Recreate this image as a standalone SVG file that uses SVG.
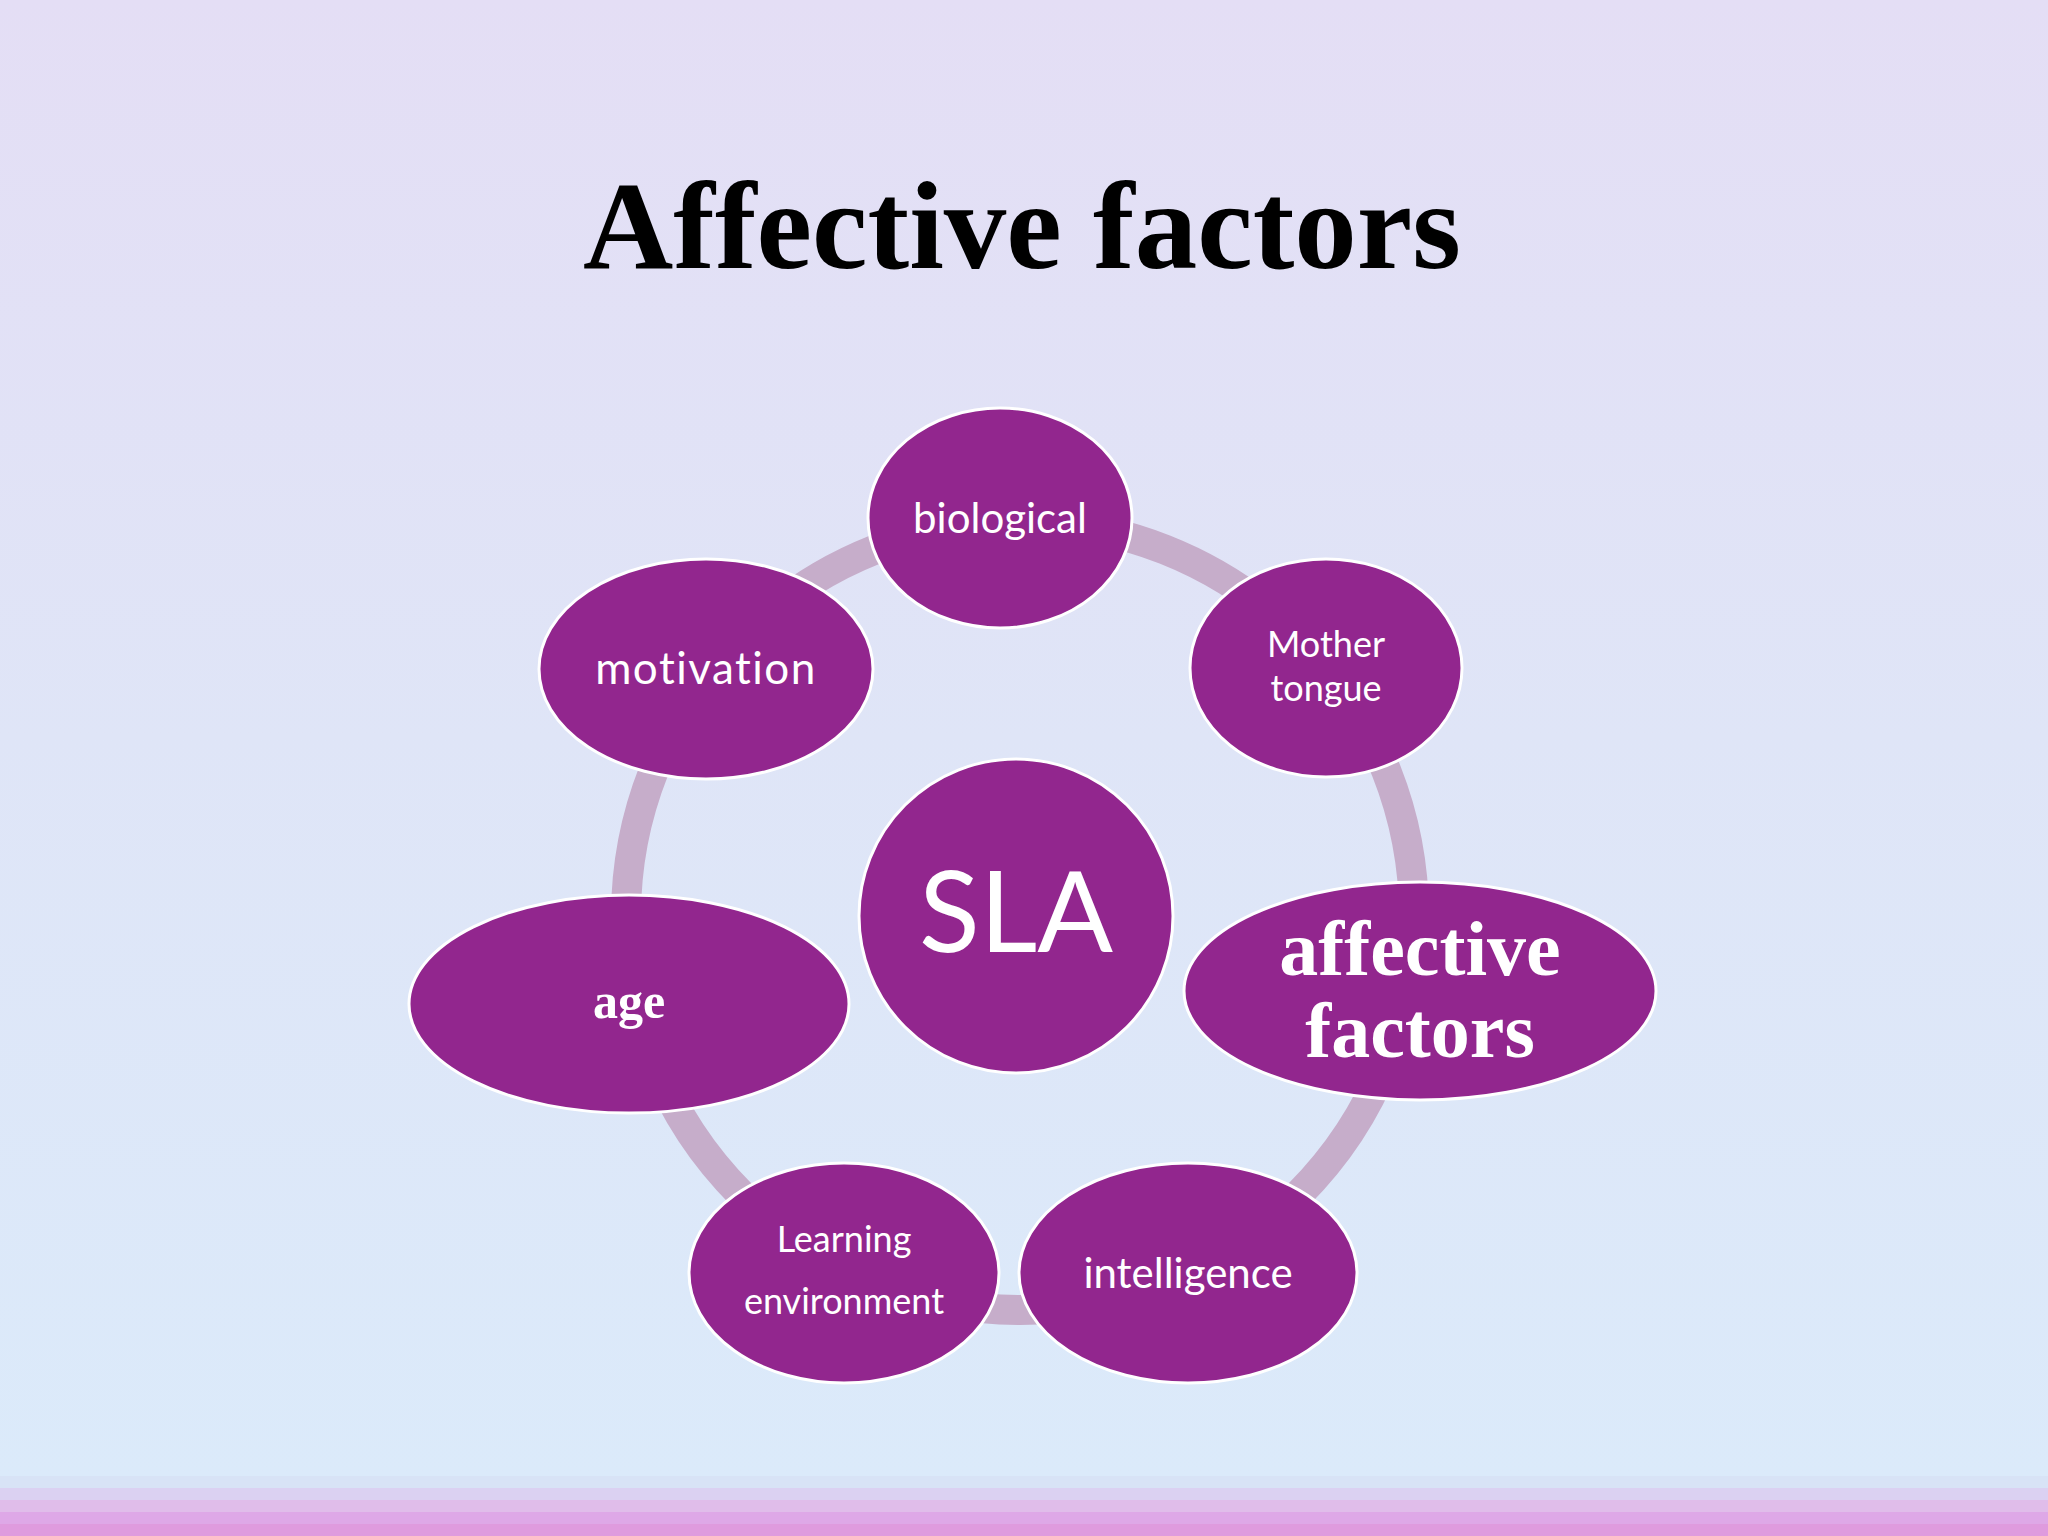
<svg xmlns="http://www.w3.org/2000/svg" width="2048" height="1536" viewBox="0 0 2048 1536">
<defs>
<linearGradient id="bg" x1="0" y1="0" x2="0" y2="1">
<stop offset="0" stop-color="#e4def5"/>
<stop offset="0.5" stop-color="#dfe5f7"/>
<stop offset="1" stop-color="#dbeafa"/>
</linearGradient>
<style>
.node{fill:#92268e;stroke:#ffffff;stroke-width:3}
.sans{font-family:Lato,"Open Sans","Liberation Sans",sans-serif;fill:#ffffff;text-anchor:middle}
.serif{font-family:"Liberation Serif","Times New Roman",serif;font-weight:bold;fill:#ffffff;text-anchor:middle}
</style>
</defs>
<rect x="0" y="0" width="2048" height="1476" fill="url(#bg)"/>
<rect x="0" y="1476" width="2048" height="12" fill="#d8e3f6"/>
<rect x="0" y="1488" width="2048" height="12" fill="#dbd1f2"/>
<rect x="0" y="1500" width="2048" height="12" fill="#e0bdea"/>
<rect x="0" y="1512" width="2048" height="12" fill="#dea8e7"/>
<rect x="0" y="1524" width="2048" height="12" fill="#df9bde"/>

<text id="title" x="1022" y="268" font-family="'Liberation Serif','Times New Roman',serif" font-weight="bold" font-size="125" fill="#000000" text-anchor="middle">Affective factors</text>

<g id="connectors">
<circle cx="1020" cy="916" r="394" fill="none" stroke="#c6adca" stroke-width="30"/>
</g>

<g id="node-biological">
<ellipse class="node" cx="1000" cy="518" rx="132" ry="110"/>
<text class="sans" x="1000" y="533" font-size="42">biological</text>
</g>
<g id="node-mother-tongue">
<ellipse class="node" cx="1326" cy="668" rx="136" ry="109"/>
<text class="sans" x="1326" y="657" font-size="36">Mother</text>
<text class="sans" x="1326" y="701" font-size="36">tongue</text>
</g>
<g id="node-motivation">
<ellipse class="node" cx="706" cy="669" rx="167" ry="110"/>
<text class="sans" x="706" y="684" font-size="44" letter-spacing="1.5">motivation</text>
</g>
<g id="node-age">
<ellipse class="node" cx="629" cy="1004" rx="220" ry="109"/>
<text class="serif" x="629" y="1018" font-size="50">age</text>
</g>
<g id="node-sla">
<circle class="node" cx="1016" cy="916" r="157"/>
<text class="sans" x="1016" y="952" font-size="112">SLA</text>
</g>
<g id="node-affective-factors">
<ellipse class="node" cx="1420" cy="991" rx="236" ry="109"/>
<text class="serif" x="1420" y="975" font-size="78">affective</text>
<text class="serif" x="1420" y="1057" font-size="78">factors</text>
</g>
<g id="node-learning-environment">
<ellipse class="node" cx="844" cy="1273" rx="155" ry="110"/>
<text class="sans" x="844" y="1252" font-size="36">Learning</text>
<text class="sans" x="844" y="1314" font-size="36">environment</text>
</g>
<g id="node-intelligence">
<ellipse class="node" cx="1188" cy="1273" rx="169" ry="110"/>
<text class="sans" x="1188" y="1288" font-size="42">intelligence</text>
</g>
</svg>
